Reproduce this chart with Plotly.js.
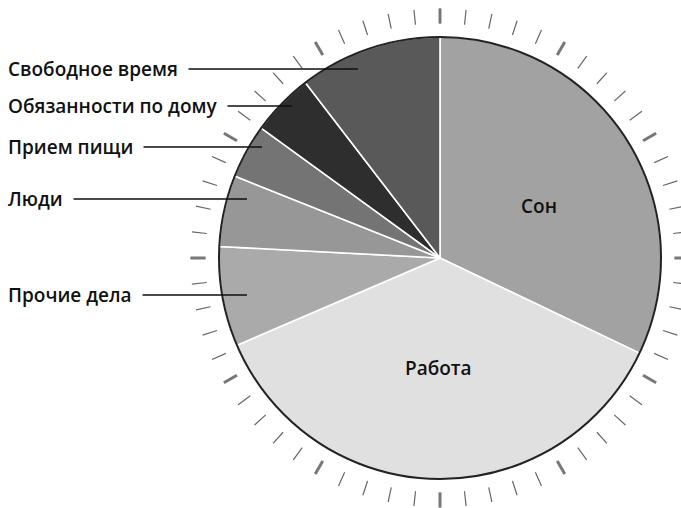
<!DOCTYPE html>
<html>
<head>
<meta charset="utf-8">
<script src="https://cdn.plot.ly/plotly-3.0.1.min.js"></script>
<style>html,body{margin:0;padding:0;background:#fff;}#chart{width:681px;height:508px;}</style>
</head>
<body>
<div id="chart"></div>
<script>
// Data (hours per day), clockwise from 12 o'clock
var categories = ["Сон", "Работа", "Прочие дела", "Люди", "Прием пищи", "Обязанности по дому", "Свободное время"];
var hours = [7.7, 8.75, 1.75, 1.25, 0.95, 1.1, 2.5];
var sliceColors = ["#a2a2a2", "#e0e0e0", "#aaaaaa", "#979797", "#747474", "#2e2e2e", "#595959"];
var insideLabels = ["Сон", "Работа"];
var outsideLabels = ["Свободное время", "Обязанности по дому", "Прием пищи", "Люди", "Прочие дела"];

var W = 681, H = 508;
var cx = 440, cy = 258, R = 221, Rt = 234;
function px(x){return x / W;}
function py(y){return 1 - y / H;}

var total = hours.reduce(function(a,b){return a+b;}, 0);

var traces = [
  {
    type: "pie",
    values: hours,
    labels: categories,
    sort: false,
    direction: "clockwise",
    rotation: 0,
    textinfo: "none",
    hoverinfo: "none",
    marker: {colors: sliceColors, line: {color: "#ffffff", width: 1.6}},
    domain: {x: [px(cx - R), px(cx + R)], y: [py(cy + R), py(cy - R)]},
    showlegend: false
  },
  {
    type: "pie",
    values: [total],
    labels: ["outline"],
    sort: false,
    textinfo: "none",
    hoverinfo: "none",
    marker: {colors: ["rgba(0,0,0,0)"], line: {color: "#222222", width: 2}},
    domain: {x: [px(cx - R), px(cx + R)], y: [py(cy + R), py(cy - R)]},
    showlegend: false
  },
  {type: "scatterpolar", r: [], theta: [], subplot: "polar", showlegend: false, hoverinfo: "none"},
  {type: "scatterpolar", r: [], theta: [], subplot: "polar2", showlegend: false, hoverinfo: "none"}
];

function polarCfg(dtick, width, color) {
  return {
    domain: {x: [px(cx - Rt), px(cx + Rt)], y: [py(cy + Rt), py(cy - Rt)]},
    bgcolor: "rgba(0,0,0,0)",
    angularaxis: {
      type: "linear", thetaunit: "degrees", rotation: 90, direction: "clockwise",
      showgrid: false, showline: false, showticklabels: false,
      ticks: "outside", ticklen: 15, tickwidth: width, tickcolor: color,
      tickmode: "linear", tick0: 0, dtick: dtick
    },
    radialaxis: {visible: false, range: [0, 1]}
  };
}

var font = "Open Sans, Noto Sans, DejaVu Sans, sans-serif";
var heads = [[358, 69], [292, 106], [262, 147], [247, 199], [247, 295]];
var textLeft = 6;
var annotations = outsideLabels.map(function(lbl, i){
  return {
    xref: "paper", yref: "paper",
    x: px(heads[i][0]), y: py(heads[i][1]),
    ax: textLeft - heads[i][0], ay: 0,
    xanchor: "left", yanchor: "middle",
    text: lbl, showarrow: true, arrowhead: 0, arrowwidth: 1.3, arrowcolor: "#111111",
    startstandoff: 9, standoff: 0,
    font: {family: font, size: 19, weight: 600, color: "#111111"}
  };
});
var insidePos = [[539, 206], [438, 368]];
insideLabels.forEach(function(lbl, i){
  annotations.push({
    xref: "paper", yref: "paper",
    x: px(insidePos[i][0]), y: py(insidePos[i][1]),
    xanchor: "center", yanchor: "middle", showarrow: false,
    text: lbl, font: {family: font, size: 19, weight: 600, color: "#111111"}
  });
});

var layout = {
  width: W, height: H,
  margin: {l: 0, r: 0, t: 0, b: 0, pad: 0},
  paper_bgcolor: "#ffffff",
  showlegend: false,
  polar: polarCfg(6, 1.2, "#666666"),
  polar2: polarCfg(30, 3, "#777777"),
  annotations: annotations
};

Plotly.newPlot("chart", traces, layout, {displayModeBar: false, staticPlot: true});
</script>
</body>
</html>
